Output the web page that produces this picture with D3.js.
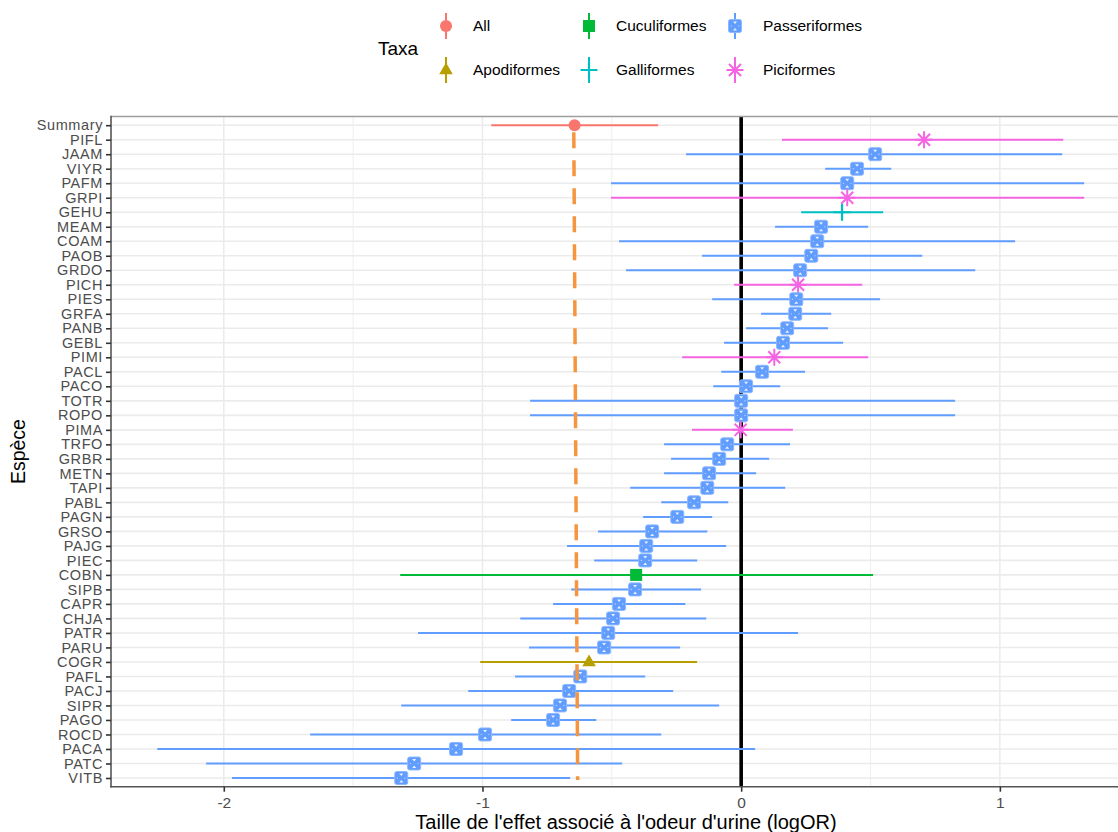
<!DOCTYPE html>
<html><head><meta charset="utf-8">
<script src="https://cdn.jsdelivr.net/npm/d3@7"></script>
<style>body{margin:0;background:#fff} text{font-family:"Liberation Sans",Arial,sans-serif}</style>
</head><body><svg id="c" width="1118" height="832"></svg>
<script>
const species = ["Summary","PIFL","JAAM","VIYR","PAFM","GRPI","GEHU","MEAM","COAM","PAOB","GRDO","PICH","PIES","GRFA","PANB","GEBL","PIMI","PACL","PACO","TOTR","ROPO","PIMA","TRFO","GRBR","METN","TAPI","PABL","PAGN","GRSO","PAJG","PIEC","COBN","SIPB","CAPR","CHJA","PATR","PARU","COGR","PAFL","PACJ","SIPR","PAGO","ROCD","PACA","PATC","VITB"];
const taxa = ["All","Piciformes","Passeriformes","Passeriformes","Passeriformes","Piciformes","Galliformes","Passeriformes","Passeriformes","Passeriformes","Passeriformes","Piciformes","Passeriformes","Passeriformes","Passeriformes","Passeriformes","Piciformes","Passeriformes","Passeriformes","Passeriformes","Passeriformes","Piciformes","Passeriformes","Passeriformes","Passeriformes","Passeriformes","Passeriformes","Passeriformes","Passeriformes","Passeriformes","Passeriformes","Cuculiformes","Passeriformes","Passeriformes","Passeriformes","Passeriformes","Passeriformes","Apodiformes","Passeriformes","Passeriformes","Passeriformes","Passeriformes","Passeriformes","Passeriformes","Passeriformes","Passeriformes"];
const estimate = [-0.644,0.707,0.518,0.448,0.41,0.41,0.39,0.309,0.294,0.271,0.228,0.22,0.213,0.209,0.178,0.162,0.128,0.081,0.019,0.0,0.0,-0.002,-0.054,-0.085,-0.124,-0.131,-0.182,-0.247,-0.344,-0.367,-0.371,-0.406,-0.41,-0.472,-0.495,-0.514,-0.53,-0.588,-0.622,-0.665,-0.7,-0.727,-0.99,-1.102,-1.264,-1.314];
const lower = [-0.966,0.158,-0.213,0.325,-0.503,-0.503,0.232,0.131,-0.472,-0.151,-0.445,-0.027,-0.112,0.077,0.019,-0.066,-0.228,-0.077,-0.108,-0.816,-0.816,-0.19,-0.298,-0.271,-0.298,-0.429,-0.309,-0.379,-0.553,-0.673,-0.568,-1.318,-0.657,-0.727,-0.854,-1.249,-0.82,-1.009,-0.874,-1.055,-1.314,-0.889,-1.666,-2.257,-2.068,-1.968];
const upper = [-0.321,1.245,1.241,0.58,1.326,1.326,0.549,0.491,1.059,0.70,0.905,0.468,0.537,0.348,0.336,0.394,0.491,0.247,0.151,0.827,0.827,0.2,0.189,0.108,0.058,0.17,-0.05,-0.112,-0.131,-0.058,-0.17,0.51,-0.155,-0.216,-0.135,0.22,-0.236,-0.17,-0.371,-0.263,-0.085,-0.56,-0.309,0.054,-0.46,-0.661];
const taxaLevels = ["All","Apodiformes","Cuculiformes","Galliformes","Passeriformes","Piciformes"];
const taxaColors = ["#F8766D","#B79F00","#00BA38","#00BFC4","#619CFF","#F564E3"];
const xTicks = [-2,-1,0,1];
const xMinor = [-1.5,-0.5,0.5,1.5];
const summaryLine = [-0.647,-0.632]; // dashed line x at Summary row and at VITB row

const svg = d3.select("#c");
const L = 111, R = 1130.5, T = 116.5, B = 786.7;
const x = d3.scaleLinear().domain([-2.436,1.505]).range([L,R]);
const y = d3.scalePoint().domain(species).range([T,B]).padding(0.6);
const color = d3.scaleOrdinal().domain(taxaLevels).range(taxaColors);

const rows = species.map((s,i)=>({s, t:taxa[i], e:estimate[i], lo:lower[i], hi:upper[i]}));

// grid
const grid = svg.append("g");
grid.selectAll(".mn").data(xMinor).join("line")
  .attr("x1",d=>x(d)).attr("x2",d=>x(d)).attr("y1",T).attr("y2",B)
  .attr("stroke","#EEEEEE").attr("stroke-width",1);
grid.selectAll(".mj").data(xTicks).join("line")
  .attr("x1",d=>x(d)).attr("x2",d=>x(d)).attr("y1",T).attr("y2",B)
  .attr("stroke","#EBEBEB").attr("stroke-width",1.5);
grid.selectAll(".hy").data(species).join("line")
  .attr("x1",L).attr("x2",R).attr("y1",d=>y(d)).attr("y2",d=>y(d))
  .attr("stroke","#EBEBEB").attr("stroke-width",1.6);

// zero line
svg.append("line").attr("x1",x(0)).attr("x2",x(0)).attr("y1",T).attr("y2",B)
  .attr("stroke","#000").attr("stroke-width",3.6);

// error bars
svg.append("g").selectAll("line").data(rows).join("line")
  .attr("x1",d=>x(d.lo)).attr("x2",d=>x(d.hi)).attr("y1",d=>y(d.s)).attr("y2",d=>y(d.s))
  .attr("stroke",d=>color(d.t)).attr("stroke-width",2);

function shape(g, t, c){
  if(t==="All"){ g.append("circle").attr("r",6).attr("fill",c); }
  else if(t==="Apodiformes"){ g.append("path").attr("d","M0,-7.5L6.8,4.3L-6.8,4.3Z").attr("fill",c); }
  else if(t==="Cuculiformes"){ g.append("rect").attr("x",-6).attr("y",-6).attr("width",12).attr("height",12).attr("fill",c); }
  else if(t==="Galliformes"){ g.append("path").attr("d","M-8.5,0H8.5M0,-8.5V8.5").attr("stroke",c).attr("stroke-width",2.2).attr("fill","none"); }
  else if(t==="Passeriformes"){
    g.append("rect").attr("x",-6.5).attr("y",-6.5).attr("width",13).attr("height",13).attr("rx",2)
      .attr("fill",c).attr("stroke","#8db8ff").attr("stroke-width",1);
    g.append("path").attr("d","M-2,-4.5H2L0,-2Z M-2,4.5H2L0,2Z").attr("fill","#e8f0ff");
    g.append("circle").attr("cx",-3.8).attr("cy",0).attr("r",0.6).attr("fill","#cfe0ff");
    g.append("circle").attr("cx",3.8).attr("cy",0).attr("r",0.6).attr("fill","#cfe0ff");
  }
  else if(t==="Piciformes"){
    const r=8.5, a=r*0.7071;
    g.append("path").attr("d",`M-${r},0H${r}M0,-${r}V${r}M-${a},-${a}L${a},${a}M-${a},${a}L${a},-${a}`)
      .attr("stroke",c).attr("stroke-width",2).attr("fill","none");
  }
}

// points
const pts = svg.append("g");
rows.forEach(d=>{
  const g = pts.append("g").attr("transform",`translate(${x(d.e)},${y(d.s)})`);
  shape(g, d.t, color(d.t));
});

// summary dashed line
svg.append("line")
  .attr("x1",x(summaryLine[0])).attr("x2",x(summaryLine[1]))
  .attr("y1",y("Summary")+7).attr("y2",y("VITB")+2)
  .attr("stroke","#F5953F").attr("stroke-width",3.5).attr("stroke-dasharray","16,12");

// panel border
svg.append("line").attr("x1",L).attr("x2",1118).attr("y1",T).attr("y2",T).attr("stroke","#9E9E9E").attr("stroke-width",1.6);
svg.append("line").attr("x1",L).attr("x2",L).attr("y1",T-0.8).attr("y2",B+0.8).attr("stroke","#555").attr("stroke-width",1.6);
svg.append("line").attr("x1",L-0.8).attr("x2",1118).attr("y1",B).attr("y2",B).attr("stroke","#555").attr("stroke-width",1.6);

const tickFont = "14.5px";
// y axis
const ya = svg.append("g").attr("transform",`translate(${L},0)`)
  .call(d3.axisLeft(y).tickSize(5).tickPadding(3));
ya.select(".domain").remove();
ya.selectAll(".tick line").attr("stroke","#333").attr("stroke-width",1.6);
ya.selectAll(".tick text").attr("fill","#4D4D4D").style("font-size",tickFont)
  .style("letter-spacing","0.6px").style("font-family","Liberation Sans, Arial, sans-serif");

// x axis
const xa = svg.append("g").attr("transform",`translate(0,${B})`)
  .call(d3.axisBottom(x).tickValues(xTicks).tickFormat(d3.format("d")).tickSize(5).tickPadding(5));
xa.select(".domain").remove();
xa.selectAll(".tick line").attr("stroke","#333").attr("stroke-width",1.6);
xa.selectAll(".tick text").attr("fill","#4D4D4D").style("font-size","15.5px").style("font-family","Liberation Sans, Arial, sans-serif");
xa.selectAll(".tick text").text(d=>d<0? "-"+Math.abs(d) : d);

// axis titles
svg.append("text").attr("x",626).attr("y",829).attr("text-anchor","middle")
  .style("font-size","20px").attr("fill","#000").text("Taille de l'effet associé à l'odeur d'urine (logOR)");
svg.append("text").attr("transform",`translate(25,${(T+B)/2}) rotate(-90)`).attr("text-anchor","middle")
  .style("font-size","19.5px").attr("fill","#000").text("Espèce");

// legend
const lg = svg.append("g");
lg.append("text").attr("x",378).attr("y",48).attr("dy","0.35em").style("font-size","19px").text("Taxa");
const keyX = [446,589,735], txtX = [473,616,763], rowY = [26,70];
taxaLevels.forEach((t,i)=>{
  const col = Math.floor(i/2), row = i%2;
  const g = lg.append("g").attr("transform",`translate(${keyX[col]},${rowY[row]})`);
  const c = color(t);
  g.append("line").attr("x1",0).attr("x2",0).attr("y1",-13).attr("y2",13).attr("stroke",c).attr("stroke-width",2);
  shape(g, t, c);
  lg.append("text").attr("x",txtX[col]).attr("y",rowY[row]).attr("dy","0.35em").style("font-size","15.5px").attr("fill","#000").text(t);
});
</script></body></html>
